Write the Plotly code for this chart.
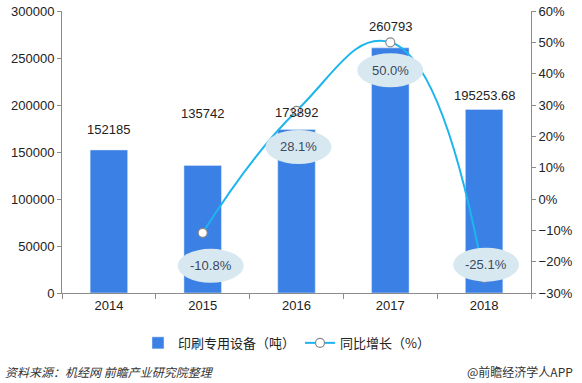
import plotly.graph_objects as go

years = ["2014", "2015", "2016", "2017", "2018"]
output = [152185, 135742, 173892, 260793, 195253.68]
output_labels = ["152185", "135742", "173892", "260793", "195253.68"]
growth_years = ["2015", "2016", "2017", "2018"]
growth = [-10.8, 28.1, 50.0, -25.1]
growth_labels = ["-10.8%", "28.1%", "50.0%", "-25.1%"]
label_shift = [20, 52, 17, 21, 14]
ellipse_dy = [-33, -36, -28, 13]
ellipse_dx = [8, 2, 0, 2]

BAR = "#3b80e5"
LINE = "#1db5ee"
AX = "#8c8c8c"
NUMF = "Liberation Sans, Arial, sans-serif"
CJK = "Noto Sans CJK SC, sans-serif"

xi = {y: i for i, y in enumerate(years)}
bx = [xi[y] for y in years]
gx = [xi[y] for y in growth_years]

fig = go.Figure()
fig.add_trace(go.Bar(x=bx, y=output, name="印刷专用设备（吨）", marker_color=BAR,
                     width=0.4, yaxis="y"))
fig.add_trace(go.Scatter(x=gx, y=growth, name="同比增长（%）", yaxis="y2",
                         mode="lines+markers", line=dict(color=LINE, width=2, shape="spline", smoothing=1.3),
                         marker=dict(size=9, color="white", line=dict(color="#8a8a8a", width=1.2))))

for x, v, t, s in zip(bx, output, output_labels, label_shift):
    fig.add_annotation(x=x, y=v, xref="x", yref="y", text=t, showarrow=False, yshift=s,
                       font=dict(family=NUMF, size=13, color="#222"))

for x, v, t, s, d in zip(gx, growth, growth_labels, ellipse_dy, ellipse_dx):
    fig.add_shape(type="circle", xref="x", yref="y2", xsizemode="pixel", ysizemode="pixel",
                  xanchor=x, yanchor=v, x0=d - 33, x1=d + 33, y0=s - 17, y1=s + 17,
                  fillcolor="#d8e8f1", line=dict(width=0), layer="above")
    fig.add_annotation(x=x, y=v, xref="x", yref="y2", text=t, showarrow=False, yshift=s, xshift=d,
                       font=dict(family=NUMF, size=13, color="#3a4a5e"))

fig.add_annotation(xref="paper", yref="paper", x=-0.126, y=-0.28, xanchor="left", yanchor="middle",
                   text="<i>资料来源：机经网 前瞻产业研究院整理</i>", showarrow=False,
                   font=dict(family=CJK, size=12, color="#333"))
fig.add_annotation(xref="paper", yref="paper", x=1.093, y=-0.28, xanchor="right", yanchor="middle",
                   text="@前瞻经济学人APP", showarrow=False,
                   font=dict(family=CJK, size=12, color="#333"))

fig.update_layout(
    width=582, height=383,
    margin=dict(l=62, r=51, t=11, b=90),
    plot_bgcolor="white", paper_bgcolor="white",
    showlegend=True,
    legend=dict(orientation="h", x=0.162, xanchor="left", y=-0.177, yanchor="middle",
                font=dict(family=CJK, size=13, color="#222"), itemwidth=30),
    xaxis=dict(range=[-0.5, len(years) - 0.5], tickvals=bx, ticktext=years, showline=True, linecolor=AX,
               ticks="", tickfont=dict(family=NUMF, size=13, color="#222"), showgrid=False, zeroline=False,
               automargin=False,
               minor=dict(tickvals=[i - 0.5 for i in range(len(years) + 1)], ticks="outside",
                          ticklen=5, tickcolor=AX, showgrid=False)),
    yaxis=dict(range=[0, 300000], dtick=50000, tickformat="d", showline=True, linecolor=AX, ticks="outside",
               tickcolor=AX, ticklen=4, showgrid=False, zeroline=False, automargin=False,
               tickfont=dict(family=NUMF, size=13, color="#222")),
    yaxis2=dict(range=[-30, 60], dtick=10, overlaying="y", side="right", showline=True, linecolor=AX,
                ticks="outside", tickcolor=AX, ticklen=4, showgrid=False, zeroline=False, automargin=False,
                ticksuffix="%", tickfont=dict(family=NUMF, size=13, color="#222")),
)

fig.write_html("out.html", config={"displayModeBar": False},
               post_script="document.body.style.margin='0';document.body.style.overflow='hidden';")
